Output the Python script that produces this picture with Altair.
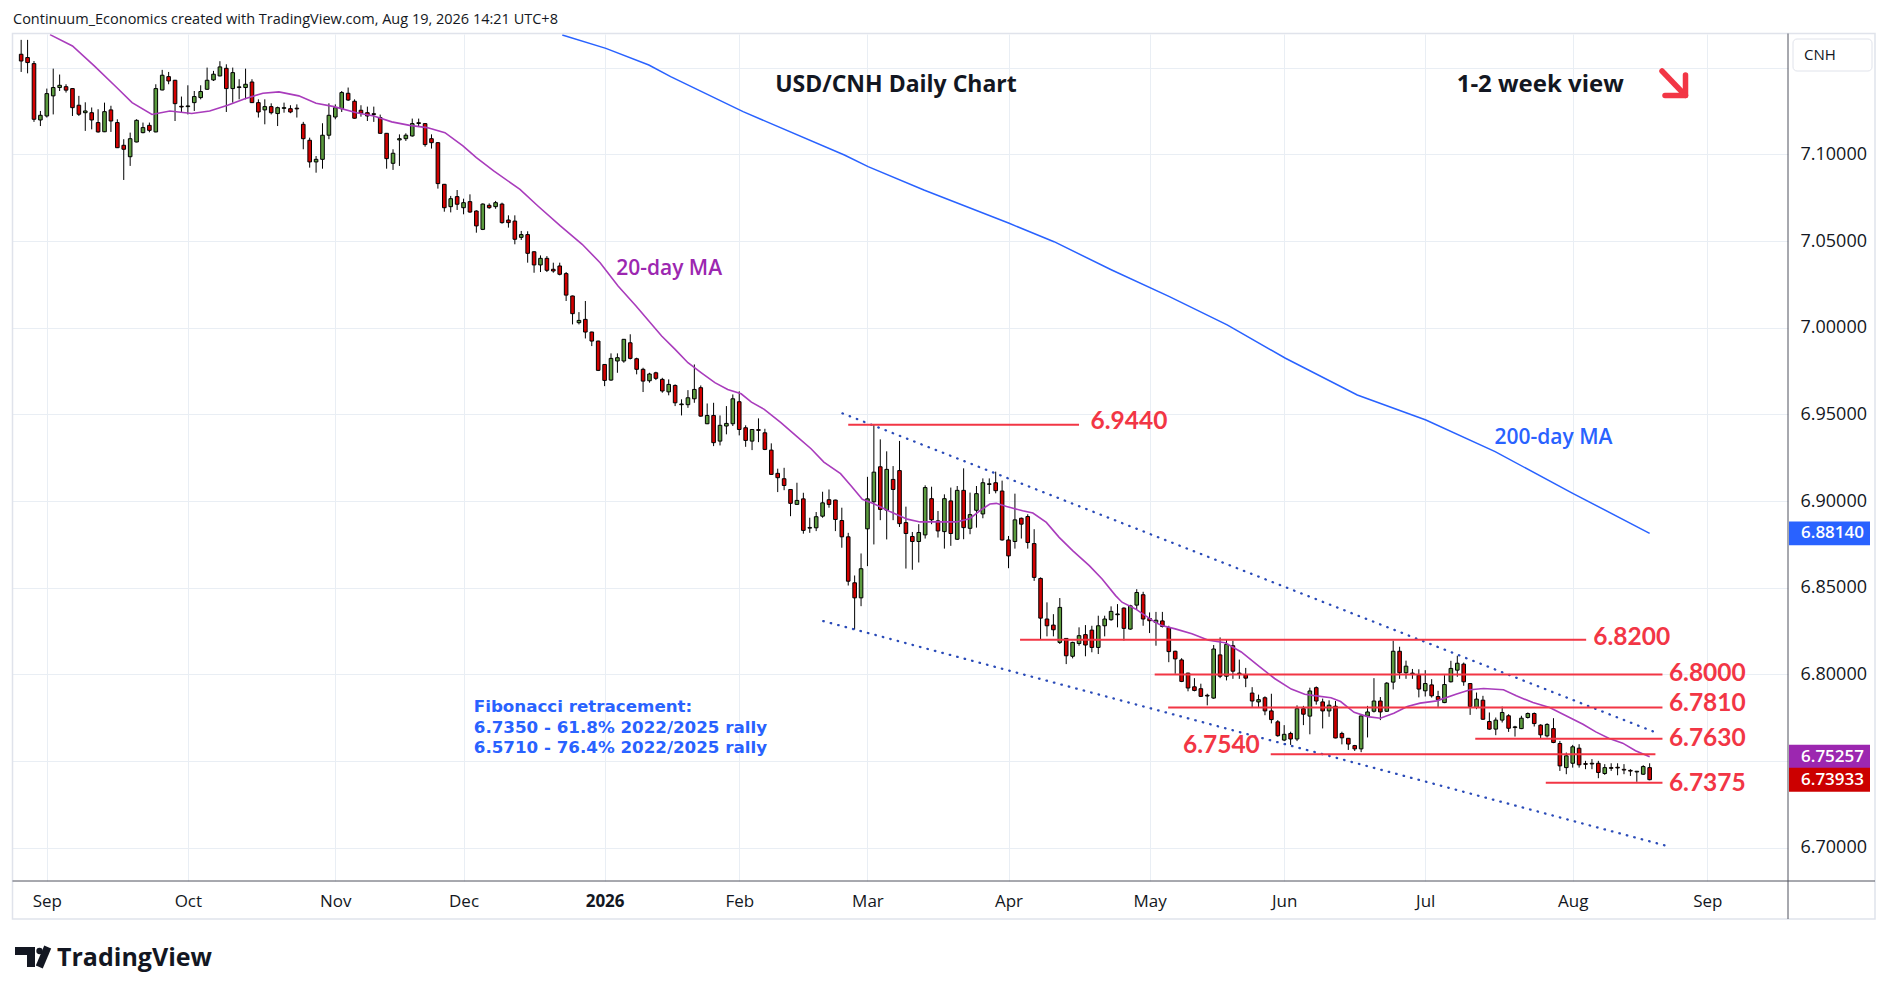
import altair as alt
import numpy as np
import pandas as pd

# ---------------- data ----------------
opens = [
7.1577, 7.1558, 7.1523, 7.1198, 7.1221, 7.1337, 7.1385, 7.1390, 7.1379, 7.1283,
7.1240, 7.1240, 7.1183, 7.1130, 7.1256, 7.1183, 7.1052, 7.0986, 7.1071, 7.1125,
7.1167, 7.1129, 7.1371, 7.1448, 7.1427, 7.1275, 7.1275, 7.1298, 7.1327, 7.1375,
7.1429, 7.1452, 7.1496, 7.1379, 7.1385, 7.1385, 7.1417, 7.1298, 7.1256, 7.1275,
7.1235, 7.1265, 7.1263, 7.1263, 7.1173, 7.1081, 7.0956, 7.0971, 7.1110, 7.1215,
7.1263, 7.1352, 7.1306, 7.1254, 7.1240, 7.1232, 7.1212, 7.1121, 7.0948, 7.1083,
7.1090, 7.1106, 7.1180, 7.1177, 7.1090, 7.1067, 7.0827, 7.0698, 7.0756, 7.0692,
7.0727, 7.0673, 7.0567, 7.0706, 7.0698, 7.0713, 7.0621, 7.0615, 7.0521, 7.0537,
7.0438, 7.0362, 7.0400, 7.0337, 7.0356, 7.0312, 7.0183, 7.0029, 7.0048, 6.9975,
6.9923, 6.9788, 6.9698, 6.9808, 6.9808, 6.9913, 6.9821, 6.9760, 6.9694, 6.9740,
6.9702, 6.9630, 6.9667, 6.9556, 6.9556, 6.9590, 6.9654, 6.9446, 6.9494, 6.9346,
6.9433, 6.9446, 6.9573, 6.9423, 6.9346, 6.9410, 6.9394, 6.9294, 6.9160, 6.9129,
6.9067, 6.8981, 6.9013, 6.8844, 6.8846, 6.8913, 6.9008, 6.9006, 6.8888, 6.8794,
6.8529, 6.8442, 6.8840, 6.8996, 6.9198, 6.8948, 6.9125, 6.9176, 6.8876, 6.8796,
6.8767, 6.8805, 6.9014, 6.8886, 6.8824, 6.9001, 6.8780, 6.9062, 6.8843, 6.8947,
6.8926, 6.9096, 6.9106, 6.9058, 6.8776, 6.8767, 6.8901, 6.8911, 6.8755, 6.8554,
6.8320, 6.8285, 6.8185, 6.8208, 6.8105, 6.8179, 6.8230, 6.8256, 6.8156, 6.8281,
6.8316, 6.8345, 6.8383, 6.8262, 6.8400, 6.8460, 6.8323, 6.8300, 6.8309, 6.8271,
6.8134, 6.8084, 6.8008, 6.7929, 6.7918, 6.7878, 6.7864, 6.8113, 6.7990, 6.8166,
6.8004, 6.7998, 6.7893, 6.7842, 6.7866, 6.7790, 6.7727, 6.7622, 6.7660, 6.7628,
6.7803, 6.7760, 6.7924, 6.7842, 6.7790, 6.7817, 6.7660, 6.7632, 6.7590, 6.7571,
6.7760, 6.7788, 6.7847, 6.7788, 6.7956, 6.8134, 6.8010, 6.8004, 6.7996, 6.7906,
6.7940, 6.7873, 6.7838, 6.7958, 6.8025, 6.8060, 6.7948, 6.7810, 6.7852, 6.7729,
6.7685, 6.7737, 6.7762, 6.7694, 6.7688, 6.7752, 6.7775, 6.7708, 6.7646, 6.7688,
6.7602, 6.7463, 6.7488, 6.7575, 6.7483, 6.7485, 6.7488, 6.7429, 6.7460, 6.7462,
6.7450, 6.7444, 6.7438, 6.7425, 6.7463]

highs = [
7.1660, 7.1660, 7.1538, 7.1250, 7.1379, 7.1494, 7.1460, 7.1404, 7.1381, 7.1337,
7.1300, 7.1270, 7.1260, 7.1298, 7.1280, 7.1202, 7.1087, 7.1125, 7.1202, 7.1183,
7.1183, 7.1404, 7.1487, 7.1475, 7.1429, 7.1333, 7.1398, 7.1365, 7.1398, 7.1500,
7.1481, 7.1537, 7.1519, 7.1500, 7.1433, 7.1494, 7.1433, 7.1317, 7.1317, 7.1294,
7.1275, 7.1298, 7.1283, 7.1288, 7.1187, 7.1096, 7.0990, 7.1179, 7.1294, 7.1288,
7.1365, 7.1385, 7.1317, 7.1283, 7.1275, 7.1275, 7.1229, 7.1123, 7.1029, 7.1115,
7.1121, 7.1206, 7.1206, 7.1179, 7.1115, 7.1069, 7.0829, 7.0760, 7.0794, 7.0744,
7.0769, 7.0677, 7.0717, 7.0717, 7.0731, 7.0721, 7.0648, 7.0648, 7.0558, 7.0556,
7.0440, 7.0417, 7.0413, 7.0375, 7.0375, 7.0321, 7.0185, 7.0090, 7.0154, 6.9977,
6.9925, 6.9790, 6.9852, 6.9852, 6.9935, 6.9962, 6.9827, 6.9769, 6.9740, 6.9746,
6.9711, 6.9702, 6.9673, 6.9587, 6.9640, 6.9788, 6.9667, 6.9563, 6.9567, 6.9494,
6.9548, 6.9615, 6.9633, 6.9437, 6.9415, 6.9477, 6.9417, 6.9333, 6.9187, 6.9192,
6.9069, 6.9106, 6.9048, 6.8904, 6.8937, 6.9054, 6.9067, 6.9008, 6.8962, 6.8817,
6.8571, 6.8698, 6.9140, 6.9442, 6.9356, 6.9287, 6.9202, 6.9347, 6.8968, 6.8822,
6.8867, 6.9091, 6.9083, 6.8943, 6.9039, 6.9078, 6.9087, 6.9189, 6.9049, 6.9087,
6.9131, 6.9131, 6.9170, 6.9118, 6.8799, 6.9043, 6.8905, 6.8924, 6.8838, 6.8560,
6.8416, 6.8348, 6.8441, 6.8210, 6.8189, 6.8272, 6.8285, 6.8281, 6.8339, 6.8339,
6.8393, 6.8406, 6.8387, 6.8402, 6.8492, 6.8477, 6.8358, 6.8361, 6.8361, 6.8281,
6.8137, 6.8094, 6.8010, 6.7979, 6.7947, 6.7889, 6.8170, 6.8214, 6.8204, 6.8195,
6.8086, 6.8038, 6.7927, 6.7884, 6.7874, 6.7889, 6.7737, 6.7708, 6.7670, 6.7822,
6.7819, 6.7924, 6.7931, 6.7861, 6.7851, 6.7847, 6.7670, 6.7634, 6.7594, 6.7765,
6.7819, 6.7979, 6.7870, 6.7956, 6.8195, 6.8160, 6.8080, 6.8032, 6.8030, 6.8025,
6.7973, 6.7906, 6.7996, 6.8079, 6.8108, 6.8069, 6.7950, 6.7896, 6.7877, 6.7781,
6.7752, 6.7815, 6.7771, 6.7704, 6.7762, 6.7781, 6.7781, 6.7713, 6.7719, 6.7748,
6.7617, 6.7550, 6.7594, 6.7598, 6.7502, 6.7512, 6.7502, 6.7483, 6.7488, 6.7488,
6.7483, 6.7454, 6.7444, 6.7477, 6.7488]

lows = [
7.1475, 7.1467, 7.1187, 7.1163, 7.1212, 7.1230, 7.1365, 7.1356, 7.1221, 7.1221,
7.1135, 7.1144, 7.1125, 7.1128, 7.1129, 7.1036, 7.0852, 7.0933, 7.1069, 7.1121,
7.1127, 7.1127, 7.1369, 7.1404, 7.1192, 7.1240, 7.1230, 7.1250, 7.1317, 7.1371,
7.1423, 7.1450, 7.1244, 7.1298, 7.1317, 7.1317, 7.1296, 7.1212, 7.1173, 7.1230,
7.1163, 7.1240, 7.1237, 7.1212, 7.1029, 7.0923, 7.0894, 7.0917, 7.1087, 7.1202,
7.1244, 7.1308, 7.1206, 7.1217, 7.1192, 7.1187, 7.1119, 7.0917, 7.0910, 7.0933,
7.1077, 7.1102, 7.1163, 7.1044, 7.1033, 7.0802, 7.0669, 7.0665, 7.0679, 7.0654,
7.0663, 7.0548, 7.0563, 7.0686, 7.0686, 7.0600, 7.0577, 7.0481, 7.0506, 7.0375,
7.0317, 7.0321, 7.0321, 7.0317, 7.0302, 7.0154, 7.0019, 7.0019, 6.9938, 6.9894,
6.9750, 6.9663, 6.9694, 6.9740, 6.9798, 6.9817, 6.9731, 6.9629, 6.9683, 6.9698,
6.9625, 6.9610, 6.9548, 6.9494, 6.9538, 6.9567, 6.9487, 6.9444, 6.9317, 6.9321,
6.9385, 6.9433, 6.9379, 6.9313, 6.9294, 6.9340, 6.9294, 6.9152, 6.9052, 6.9063,
6.8913, 6.8979, 6.8812, 6.8817, 6.8827, 6.8904, 6.8962, 6.8827, 6.8731, 6.8513,
6.8260, 6.8394, 6.8625, 6.8750, 6.8890, 6.8779, 6.8890, 6.8851, 6.8611, 6.8604,
6.8646, 6.8784, 6.8867, 6.8790, 6.8726, 6.8742, 6.8776, 6.8780, 6.8809, 6.8847,
6.8901, 6.9041, 6.9045, 6.8772, 6.8613, 6.8726, 6.8784, 6.8726, 6.8540, 6.8204,
6.8220, 6.8220, 6.8176, 6.8060, 6.8093, 6.8166, 6.8105, 6.8128, 6.8118, 6.8220,
6.8310, 6.8272, 6.8195, 6.8258, 6.8373, 6.8281, 6.8239, 6.8166, 6.8271, 6.8071,
6.8004, 6.7956, 6.7903, 6.7903, 6.7870, 6.7822, 6.7860, 6.7979, 6.7966, 6.7975,
6.7975, 6.7927, 6.7813, 6.7813, 6.7765, 6.7718, 6.7641, 6.7616, 6.7594, 6.7616,
6.7708, 6.7655, 6.7826, 6.7689, 6.7756, 6.7632, 6.7597, 6.7565, 6.7559, 6.7552,
6.7637, 6.7781, 6.7737, 6.7784, 6.7914, 6.7975, 6.7975, 6.7975, 6.7868, 6.7873,
6.7867, 6.7813, 6.7835, 6.7954, 6.7987, 6.7935, 6.7767, 6.7800, 6.7738, 6.7681,
6.7650, 6.7723, 6.7669, 6.7642, 6.7685, 6.7746, 6.7700, 6.7631, 6.7637, 6.7604,
6.7444, 6.7425, 6.7463, 6.7463, 6.7454, 6.7454, 6.7402, 6.7421, 6.7444, 6.7419,
6.7425, 6.7415, 6.7381, 6.7421, 6.7390]

closes = [
7.1538, 7.1529, 7.1202, 7.1225, 7.1350, 7.1385, 7.1398, 7.1370, 7.1269, 7.1231,
7.1250, 7.1198, 7.1129, 7.1246, 7.1192, 7.1038, 7.1029, 7.1090, 7.1196, 7.1154,
7.1138, 7.1379, 7.1456, 7.1423, 7.1292, 7.1273, 7.1277, 7.1333, 7.1362, 7.1427,
7.1462, 7.1504, 7.1379, 7.1471, 7.1387, 7.1404, 7.1298, 7.1244, 7.1275, 7.1240,
7.1269, 7.1267, 7.1244, 7.1262, 7.1090, 7.0956, 7.0971, 7.1110, 7.1225, 7.1269,
7.1356, 7.1313, 7.1208, 7.1237, 7.1221, 7.1230, 7.1121, 7.0975, 7.1006, 7.1090,
7.1110, 7.1177, 7.1178, 7.1056, 7.1067, 7.0831, 7.0692, 7.0744, 7.0712, 7.0721,
7.0667, 7.0587, 7.0713, 7.0692, 7.0721, 7.0606, 7.0606, 7.0510, 7.0537, 7.0429,
7.0362, 7.0400, 7.0331, 7.0327, 7.0308, 7.0188, 7.0081, 7.0042, 6.9975, 6.9923,
6.9754, 6.9696, 6.9823, 6.9827, 6.9933, 6.9823, 6.9760, 6.9692, 6.9733, 6.9708,
6.9635, 6.9673, 6.9567, 6.9557, 6.9596, 6.9644, 6.9490, 6.9494, 6.9337, 6.9437,
6.9448, 6.9590, 6.9413, 6.9350, 6.9413, 6.9408, 6.9298, 6.9154, 6.9135, 6.9090,
6.8987, 6.9004, 6.8831, 6.8845, 6.8910, 6.8990, 6.8981, 6.8894, 6.8794, 6.8538,
6.8442, 6.8610, 6.9013, 6.9167, 6.8952, 6.9183, 6.9067, 6.8870, 6.8813, 6.8767,
6.8819, 6.9078, 6.8892, 6.8828, 6.9014, 6.8813, 6.9062, 6.8847, 6.8922, 6.9043,
6.9106, 6.9097, 6.9060, 6.8776, 6.8684, 6.8892, 6.8867, 6.8761, 6.8560, 6.8325,
6.8281, 6.8258, 6.8387, 6.8108, 6.8185, 6.8224, 6.8170, 6.8156, 6.8281, 6.8320,
6.8364, 6.8346, 6.8266, 6.8396, 6.8473, 6.8320, 6.8310, 6.8313, 6.8277, 6.8132,
6.8090, 6.7960, 6.7922, 6.7908, 6.7874, 6.7876, 6.8147, 6.7990, 6.8174, 6.8019,
6.8005, 6.7979, 6.7847, 6.7855, 6.7790, 6.7740, 6.7647, 6.7655, 6.7628, 6.7803,
6.7771, 6.7905, 6.7847, 6.7790, 6.7823, 6.7634, 6.7635, 6.7599, 6.7571, 6.7761,
6.7784, 6.7847, 6.7784, 6.7950, 6.8134, 6.8010, 6.8048, 6.8005, 6.7916, 6.7948,
6.7877, 6.7854, 6.7942, 6.8035, 6.8065, 6.7958, 6.7815, 6.7858, 6.7742, 6.7685,
6.7737, 6.7781, 6.7690, 6.7695, 6.7748, 6.7775, 6.7717, 6.7652, 6.7712, 6.7608,
6.7473, 6.7531, 6.7583, 6.7479, 6.7482, 6.7484, 6.7435, 6.7463, 6.7459, 6.7461,
6.7449, 6.7443, 6.7440, 6.7469, 6.73933]

# 20-day moving average (bar position, value)
ma20 = [
(5.5, 7.1690), (9, 7.1625), (12.4, 7.1510), (15.9, 7.1385), (18.3, 7.1298), (21.4, 7.1230),
(24.2, 7.1250), (27.6, 7.1235), (30.4, 7.1250), (33.2, 7.1283), (35.9, 7.1321), (38.7, 7.1352),
(41.2, 7.1360), (44.3, 7.1337), (47, 7.1294), (49.8, 7.1275), (53.3, 7.1240), (56, 7.1221),
(58.8, 7.1187), (61.6, 7.1167), (64.3, 7.1154), (67.1, 7.1125), (69.9, 7.1048), (72, 7.0981),
(74.7, 7.0904), (78.8, 7.0798), (81.6, 7.0702), (85.1, 7.0587), (88.5, 7.0481), (91.3, 7.0375),
(94.1, 7.0240), (96.9, 7.0125), (100.9, 6.9952), (103, 6.9875), (105, 6.9798), (107.1, 6.9740),
(109.2, 6.9683), (111.2, 6.9644), (113.3, 6.9619), (114.9, 6.9571), (116.9, 6.9529), (119.5, 6.9452),
(122.1, 6.9369), (124.2, 6.9302), (126.2, 6.9225), (128.8, 6.9158), (130.4, 6.9090), (132.2, 6.9010),
(134, 6.8985), (136.6, 6.8938), (139.2, 6.8896), (141.2, 6.8880), (144.3, 6.8880), (146.9, 6.8880),
(149, 6.8900), (150.5, 6.8944), (152.1, 6.8983), (153.1, 6.8987), (154.7, 6.8969), (157.2, 6.8944),
(158.8, 6.8931), (160.9, 6.8877), (162.9, 6.8791), (165, 6.8714), (167.6, 6.8628), (169.6, 6.8551),
(171.7, 6.8455), (172.7, 6.8417), (174.8, 6.8378), (177.9, 6.8301), (178.9, 6.8282), (181, 6.8263),
(183.6, 6.8235), (186.2, 6.8197), (188.8, 6.8183), (191.3, 6.8130), (193.9, 6.8053), (196.5, 6.7977),
(199.1, 6.7916), (201.2, 6.7886), (202.7, 6.7878), (205.3, 6.7866), (206.8, 6.7844), (208.9, 6.7782),
(211, 6.7757), (213, 6.7748), (215.1, 6.7777), (217.2, 6.7815), (219.2, 6.7835), (221.8, 6.7848),
(224.9, 6.7887), (227, 6.7912), (229.1, 6.7919), (232.2, 6.7912), (234.2, 6.7877), (236.8, 6.7838),
(239.4, 6.7810), (242.5, 6.7752), (244.6, 6.7713), (246.6, 6.7669), (248.7, 6.7631), (250.8, 6.7604),
(252.8, 6.7560), (255, 6.75257)]

# 200-day moving average (bar position, value)
ma200 = [
(85.4, 7.1688), (92.2, 7.1611), (98.9, 7.1515), (102.3, 7.1448), (113.6, 7.1246), (129.4, 7.0996),
(133.1, 7.0929), (141.8, 7.0794), (155.1, 7.0602), (162.1, 7.0496), (171.1, 7.0333), (180.1, 7.0179),
(189.1, 7.0016), (198.2, 6.9824), (209.4, 6.9612), (220.1, 6.9468), (230.9, 6.9285), (243, 6.9045),
(255, 6.8814)]

# dotted trend channel (bar position, price)
channel_names = ["upper", "upper", "lower", "lower"]
channel_pos = [129.1, 256.2, 126.1, 257.6]
channel_val = [6.9506, 6.7662, 6.8308, 6.7012]

# horizontal levels
levels = [6.9440, 6.8200, 6.8000, 6.7810, 6.7630, 6.7540, 6.7375]
level_start = [130.0, 156.8, 177.8, 179.9, 227.8, 195.9, 238.8]
level_end = [166.0, 245.1, 257.0, 257.0, 257.0, 255.9, 257.0]
label_pos = [167.8, 246.2, 258.0, 258.0, 258.0, 194.2, 258.0]
label_base = [6.9416, 6.8170, 6.7962, 6.7789, 6.7588, 6.7545, 6.7330]

fib_lines = ["Fibonacci retracement:",
             "6.7350 - 61.8% 2022/2025 rally",
             "6.5710 - 76.4% 2022/2025 rally"]
fib_anchor = (71.6, 6.7782)

holidays = ["2025-12-25", "2026-01-01"]
month_names = ["Jan", "Feb", "Mar", "Apr", "May", "Jun",
               "Jul", "Aug", "Sep", "Oct", "Nov", "Dec"]

# ---------------- build tables ----------------
n = min(len(opens), len(highs), len(lows), len(closes))
days = pd.bdate_range("2025-08-26", "2026-09-30")
days = days[~days.isin(pd.to_datetime(holidays))]
pos = np.arange(1, len(days) + 1)

df = pd.DataFrame({
    "i": pos[:n],
    "date": days[:n].strftime("%Y-%m-%d"),
    "open": opens[:n], "high": highs[:n], "low": lows[:n], "close": closes[:n],
})

month_pos, month_lab = [], []
seen = set()
for p, d in zip(pos, days):
    key = (d.year, d.month)
    if key in seen:
        continue
    seen.add(key)
    if d.day > 4:
        continue
    month_pos.append(int(p))
    month_lab.append(str(d.year) if d.month == 1 else month_names[d.month - 1])
year_pos = [p for p, l in zip(month_pos, month_lab) if l.isdigit()]

label_expr = " : ".join(f"datum.value == {p} ? '{l}'" for p, l in zip(month_pos, month_lab)) + " : ''"
bold_test = " || ".join(f"datum.value == {p}" for p in year_pos) if year_pos else "false"

df20 = pd.DataFrame(ma20, columns=["i", "v"])
df200 = pd.DataFrame(ma200, columns=["i", "v"])
dfch = pd.DataFrame({"line": channel_names, "i": channel_pos, "v": channel_val})
dflev = pd.DataFrame({"level": levels, "start": level_start, "end": level_end})

# level labels: stacked labels at the same x that sit very close are drawn as one block
lab_rows = []
for lv, lx, ly in sorted(zip(levels, label_pos, label_base), key=lambda r: -r[2]):
    txt = f"{lv:.4f}"
    if lv == 6.7540:
        continue
    if lab_rows and lab_rows[-1]["lx"] == lx and lab_rows[-1]["last"] - ly < 0.0185:
        lab_rows[-1]["txt"] += "\n" + txt
        lab_rows[-1]["last"] = ly
    else:
        lab_rows.append({"lx": lx, "ly": ly, "txt": txt, "last": ly})
dflab_left = pd.DataFrame(lab_rows)
dflab_right = pd.DataFrame({"lx": [label_pos[levels.index(6.7540)]],
                            "ly": [label_base[levels.index(6.7540)]],
                            "txt": ["6.7540"]})

dffib = pd.DataFrame({"t": ["\n".join(fib_lines)], "x": [fib_anchor[0]], "y": [fib_anchor[1]]})

tags = pd.DataFrame({
    "p": [ma200[-1][1], ma20[-1][1], closes[n - 1]],
    "c": ["#2962ff", "#9c27b0", "#cc0000"],
})
tags["lab"] = [f"{v:.5f}" for v in tags["p"]]

one = pd.DataFrame({"k": [0]})

# ---------------- scales / axes ----------------
FONT = "Open Sans"
LABEL_FONT = "Lato"
FIB_FONT = "DejaVu Sans"
GREEN = "#5b9b3e"
RED = "#d30000"
LEVEL = "#f23645"
DARK = "#131722"

xscale = alt.Scale(domain=[0.35, 275.8], nice=False, zero=False)
yscale = alt.Scale(domain=[6.68091, 7.16938], nice=False, zero=False)

yvals = [round(6.70 + 0.05 * k, 2) for k in range(10)]

x_axis = alt.Axis(values=month_pos, labelExpr=label_expr, title=None, grid=True,
                  labelFontSize=17, labelBaseline="alphabetic", labelPadding=25,
                  labelAlign="center", ticks=False, tickSize=0, domain=False,
                  labelFlush=False, labelOverlap=False, labelColor=DARK,
                  labelFontWeight={"condition": {"test": bold_test, "value": "bold"},
                                   "value": "normal"})
y_axis = alt.Axis(orient="right", values=yvals, title=None, grid=True,
                  labelExpr="datum.value > 7.12 || abs(datum.value - 6.75) < 0.001 ? '' : format(datum.value, '.5f')",
                  labelFontSize=18, labelPadding=12, ticks=False, tickSize=0, domain=False,
                  labelAlign="left", labelBaseline="middle", labelOverlap=False,
                  labelColor=DARK, labelFontWeight=500)


def X(f):
    return alt.X(f"{f}:Q", scale=xscale, axis=x_axis)


def Y(f):
    return alt.Y(f"{f}:Q", scale=yscale, axis=y_axis)


# ---------------- layers ----------------
wick = alt.Chart(df).mark_rule(color="#000000", strokeWidth=1).encode(
    x=X("i"), y=Y("low"), y2="high:Q")

body = alt.Chart(df).transform_calculate(
    lo="min(datum.open, datum.close)",
    hi="max(max(datum.open, datum.close), min(datum.open, datum.close) + 0.0004)",
).mark_bar(size=3.6, stroke="#000000", strokeWidth=1).encode(
    x=X("i"), y=Y("lo"), y2="hi:Q",
    color=alt.condition("datum.close >= datum.open", alt.value(GREEN), alt.value(RED)))

line20 = alt.Chart(df20).mark_line(color="#a93cbc", strokeWidth=1.6).encode(x=X("i"), y=Y("v"))
line200 = alt.Chart(df200).mark_line(color="#2962ff", strokeWidth=1.5).encode(x=X("i"), y=Y("v"))

chan = alt.Chart(dfch).mark_line(color="#2a4bb8", strokeWidth=2.3, strokeDash=[0.5, 7.2],
                                 strokeCap="round").encode(x=X("i"), y=Y("v"), detail="line:N")

lev = alt.Chart(dflev).mark_rule(color=LEVEL, strokeWidth=2).encode(
    x=X("start"), x2="end:Q", y=Y("level"))

lev_lab_l = alt.Chart(dflab_left).mark_text(align="left", baseline="alphabetic", font=LABEL_FONT,
                                            fontSize=24.5, fontWeight="bold", color=LEVEL,
                                            lineBreak="\n", lineHeight=30).encode(
    x=X("lx"), y=Y("ly"), text="txt:N")
lev_lab_r = alt.Chart(dflab_right).mark_text(align="right", baseline="alphabetic", font=LABEL_FONT,
                                             fontSize=24.5, fontWeight="bold", color=LEVEL).encode(
    x=X("lx"), y=Y("ly"), text="txt:N")


def note(txt, xv, yv, size, color, weight=600):
    d = pd.DataFrame({"t": [txt], "x": [xv], "y": [yv]})
    return alt.Chart(d).mark_text(align="left", baseline="alphabetic", font=FONT,
                                  fontSize=size, fontWeight=weight, color=color).encode(
        x=X("x"), y=Y("y"), text="t:N")


n_title = note("USD/CNH Daily Chart", 118.6, 7.1358, 23, DARK, "bold")
n_view = note("1-2 week view", 224.9, 7.1359, 24, DARK, "bold")
n_ma20 = note("20-day MA", 93.8, 7.0304, 21, "#9c27b0")
n_ma200 = note("200-day MA", 230.8, 6.9328, 21, "#2962ff")

fib = alt.Chart(dffib).mark_text(align="left", baseline="alphabetic", font=FIB_FONT, fontSize=16.7,
                                 fontWeight="bold", color="#2962ff",
                                 lineBreak="\n", lineHeight=20.5).encode(
    x=X("x"), y=Y("y"), text="t:N")

tag_rect = alt.Chart(tags).transform_calculate(
    t="datum.p + 0.0069", b="datum.p - 0.0069"
).mark_rect().encode(x=alt.value(1777), x2=alt.value(1858), y=Y("t"), y2="b:Q",
                     color=alt.Color("c:N", scale=None))
tag_text = alt.Chart(tags).mark_text(align="left", baseline="middle", font=FONT, fontSize=17,
                                     fontWeight=600, color="#ffffff").encode(
    x=alt.value(1789), y=Y("p"), text="lab:N")


# decorations in pixel space (frame, price-scale box, logo, arrow)
def prect(x1, x2, y1, y2, **kw):
    return alt.Chart(one).mark_rect(**kw).encode(
        x=alt.value(x1), x2=alt.value(x2), y=alt.value(y1), y2=alt.value(y2))


def prule(x1, y1, x2, y2, **kw):
    return alt.Chart(one).mark_rule(**kw).encode(
        x=alt.value(x1), y=alt.value(y1), x2=alt.value(x2), y2=alt.value(y2))


def ptext(txt, xv, yv, **kw):
    return alt.Chart(one).mark_text(**kw).encode(
        x=alt.value(xv), y=alt.value(yv), text=alt.value(txt))


frame = prect(0.5, 1863, -0.5, 885, fillOpacity=0, stroke="#e0e3eb", strokeWidth=1.5)
sep_h = prule(0.5, 847, 1863, 847, color="#50535e", strokeWidth=1)
sep_v = prule(1776, -0.5, 1776, 885, color="#50535e", strokeWidth=1)
cnh_box = prect(1781, 1860, 5, 37, fill="#ffffff", stroke="#e0e3eb", strokeWidth=1, cornerRadius=4)
cnh_txt = ptext("CNH", 1792, 21, align="left", baseline="middle", font=FONT, fontSize=15, color=DARK)
top_txt = ptext("Continuum_Economics created with TradingView.com, Aug 19, 2026 14:21 UTC+8",
                1, -10, align="left", baseline="alphabetic", font=FONT, fontSize=14.5, color=DARK)

arrow = [
    prule(1650, 37, 1672, 60, color=LEVEL, strokeWidth=5.5, strokeCap="round"),
    prule(1673.5, 41, 1673.5, 61.5, color=LEVEL, strokeWidth=5.5, strokeCap="round"),
    prule(1653, 61.5, 1673.5, 61.5, color=LEVEL, strokeWidth=5.5, strokeCap="round"),
]

logo = [
    prect(3, 23, 913, 921, color=DARK),
    prect(15, 23, 913, 933, color=DARK),
    alt.Chart(one).mark_circle(size=40, color=DARK, opacity=1).encode(
        x=alt.value(27.5), y=alt.value(917)),
    prule(35.7, 913, 27.3, 933, color=DARK, strokeWidth=7.5, strokeCap="butt"),
    ptext("TradingView", 45, 932, align="left", baseline="alphabetic", font=FONT,
          fontSize=25, fontWeight="bold", color=DARK),
]

layers = [wick, body, line20, line200, chan, lev, lev_lab_l, lev_lab_r,
          n_title, n_view, n_ma20, n_ma200, fib,
          frame, sep_h, sep_v, tag_rect, tag_text, cnh_box, cnh_txt, top_txt] + arrow + logo

chart = alt.layer(*layers).properties(
    width=1776, height=847,
    padding={"left": 4, "top": 26, "right": 88, "bottom": 95},
    autosize=alt.AutoSizeParams(type="none"),
).configure_view(stroke=None).configure_axis(
    gridColor="#e9eef4", gridWidth=1, labelFont=FONT
)

chart.save("out.html", embed_options={"renderer": "svg", "actions": False})
